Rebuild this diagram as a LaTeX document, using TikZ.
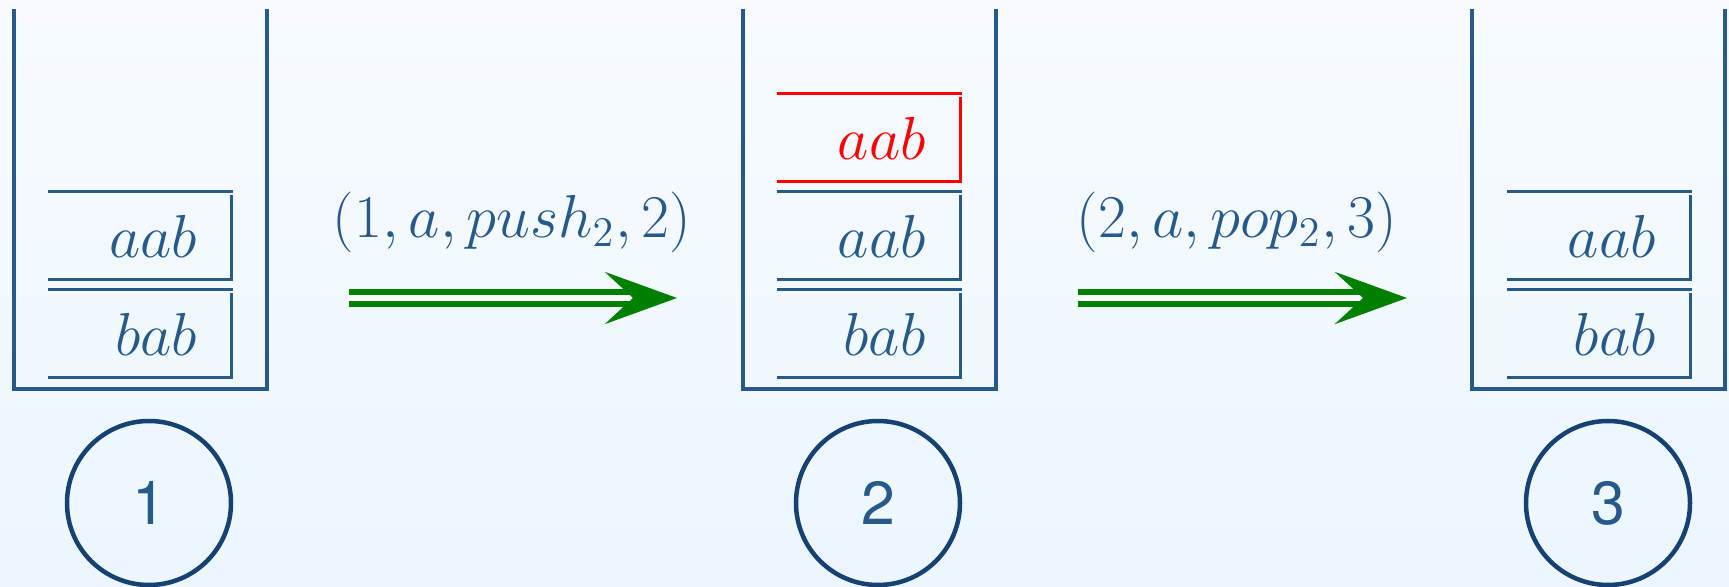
\documentclass[tikz,border=0pt]{standalone}
\usepackage{fontspec}
\newfontfamily\statefont{TeX Gyre Heros}
\usepackage{xcolor}
\usepackage{tikz}
\usetikzlibrary{arrows.meta}

\definecolor{stackblue}{RGB}{38,90,140}
\definecolor{circleblue}{RGB}{22,66,115}
\definecolor{transgreen}{RGB}{0,128,0}
\definecolor{bgtop}{RGB}{247,251,255}
\definecolor{bgbottom}{RGB}{236,246,254}

\begin{document}
\begin{tikzpicture}[
    stackwall/.style={draw=stackblue, line width=0.033cm},
    cell/.style={minimum width=1.85cm, minimum height=0.88cm, text width=1.13cm, inner xsep=0.36cm, inner ysep=0pt, outer sep=0pt, align=right, font=\fontsize{17.8}{21}\selectfont, text=stackblue},
    newcell/.style={cell, text=red},
    cellline/.style={draw=stackblue, line width=0.03cm},
    newline/.style={cellline, draw=red},
    statecircle/.style={circle, draw=circleblue, line width=0.045cm, minimum size=1.64cm, inner sep=0pt, font=\LARGE\statefont, text=stackblue},
    trans/.style={draw=transgreen, line width=0.06cm, double=white, double distance=0.06cm, -{Stealth[length=0.72cm, width=0.52cm, inset=0.28cm]}},
    translabel/.style={font=\fontsize{17.9}{21}\selectfont, text=stackblue},
  ]

    % background
    \shade[top color=bgtop, bottom color=bgbottom] (0,0) rectangle (17.29,-5.87);
    \useasboundingbox (0,0) rectangle (17.29,-5.87);

    % --- Stack 1 ---
    \draw[stackwall] (0.14,-0.09) |- (2.67,-3.89) -- (2.67,-0.09);
    \node[cell] (s1a) at (1.405,-2.36) {$aab$};
    \node[cell] (s1b) at (1.405,-3.34) {$bab$};
    \draw[cellline] (s1a.north west) -- (s1a.north east);
    \draw[cellline] ([xshift=-0.015cm,yshift=-0.03cm]s1a.north east) |- (s1a.south west);
    \draw[cellline] (s1b.north west) -- (s1b.north east);
    \draw[cellline] ([xshift=-0.015cm,yshift=-0.03cm]s1b.north east) |- (s1b.south west);
    \node[statecircle] (q1) at (1.49,-5.03) {1};

    % --- Stack 2 ---
    \draw[stackwall] (7.43,-0.09) |- (9.96,-3.89) -- (9.96,-0.09);
    \node[newcell] (s2c) at (8.69,-1.38) {$aab$};
    \node[cell] (s2a) at (8.69,-2.36) {$aab$};
    \node[cell] (s2b) at (8.69,-3.34) {$bab$};
    \draw[newline] (s2c.north west) -- (s2c.north east);
    \draw[newline] ([xshift=-0.015cm,yshift=-0.03cm]s2c.north east) |- (s2c.south west);
    \draw[cellline] (s2a.north west) -- (s2a.north east);
    \draw[cellline] ([xshift=-0.015cm,yshift=-0.03cm]s2a.north east) |- (s2a.south west);
    \draw[cellline] (s2b.north west) -- (s2b.north east);
    \draw[cellline] ([xshift=-0.015cm,yshift=-0.03cm]s2b.north east) |- (s2b.south west);
    \node[statecircle] (q2) at (8.78,-5.03) {2};

    % --- Stack 3 ---
    \draw[stackwall] (14.72,-0.09) |- (17.25,-3.89) -- (17.25,-0.09);
    \node[cell] (s3a) at (15.99,-2.36) {$aab$};
    \node[cell] (s3b) at (15.99,-3.34) {$bab$};
    \draw[cellline] (s3a.north west) -- (s3a.north east);
    \draw[cellline] ([xshift=-0.015cm,yshift=-0.03cm]s3a.north east) |- (s3a.south west);
    \draw[cellline] (s3b.north west) -- (s3b.north east);
    \draw[cellline] ([xshift=-0.015cm,yshift=-0.03cm]s3b.north east) |- (s3b.south west);
    \node[statecircle] (q3) at (16.08,-5.03) {3};

    % --- Transitions ---
    \coordinate (t1from) at (3.49,-2.98);
    \coordinate (t1to) at (6.77,-2.98);
    \coordinate (t2from) at (10.78,-2.98);
    \coordinate (t2to) at (14.07,-2.98);
    \draw[trans] (t1from) -- (t1to);
    \draw[trans] (t2from) -- (t2to);
    \node[translabel] (t1lab) at (5.12,-2.22) {$(1,a,push_2,2)$};
    \node[translabel] (t2lab) at (12.37,-2.22) {$(2,a,pop_2,3)$};

  \end{tikzpicture}
\end{document}
